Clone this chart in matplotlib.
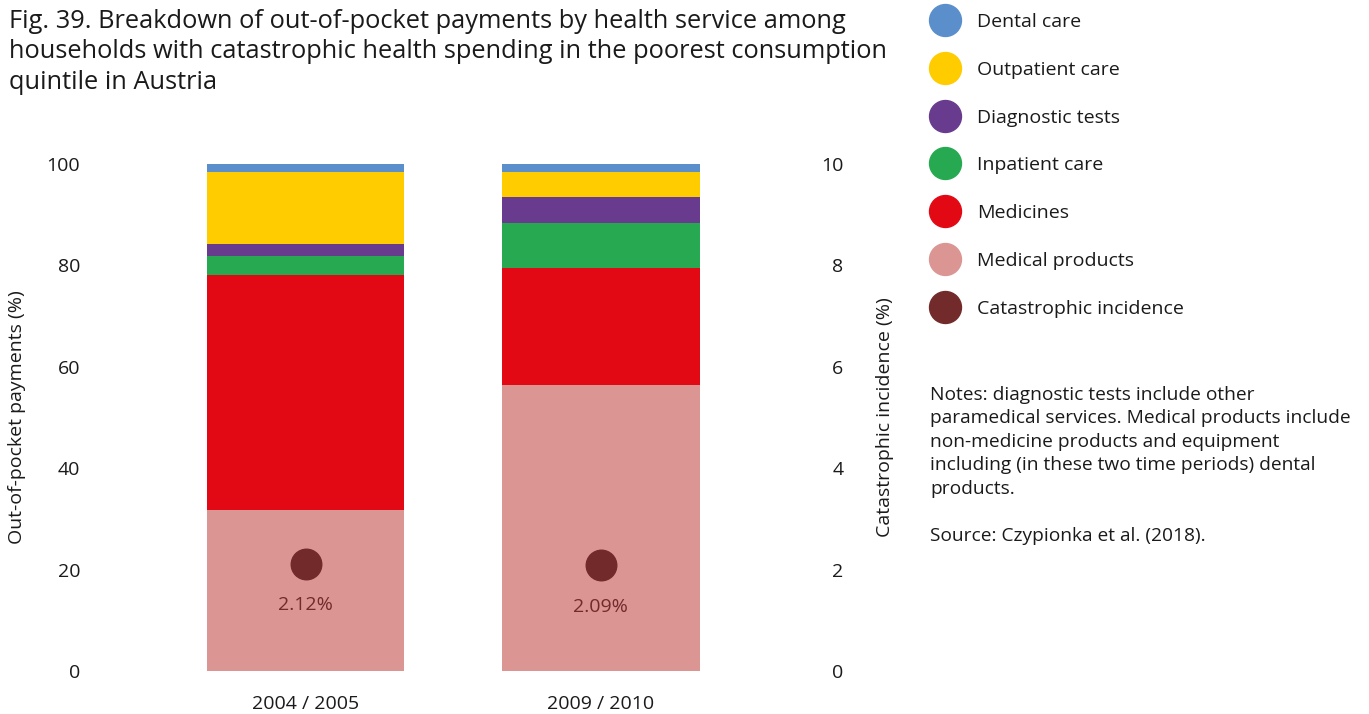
import numpy as np
import matplotlib.pyplot as plt
from matplotlib.lines import Line2D

plt.rcParams['font.family'] = ['Open Sans', 'DejaVu Sans']

# Data
periods = ['2004 / 2005', '2009 / 2010']
services = ['Medical products', 'Medicines', 'Inpatient care',
            'Diagnostic tests', 'Outpatient care', 'Dental care']
shares = {
    'Medical products': [31.8, 56.4],
    'Medicines': [46.3, 23.1],
    'Inpatient care': [3.7, 8.9],
    'Diagnostic tests': [2.4, 5.1],
    'Outpatient care': [14.2, 4.9],
    'Dental care': [1.6, 1.6],
}
incidence = [2.12, 2.09]

colors = {
    'Dental care': '#5B8FCB',
    'Outpatient care': '#FFCC00',
    'Diagnostic tests': '#693B8F',
    'Inpatient care': '#27A952',
    'Medicines': '#E30914',
    'Medical products': '#DB9694',
}
dot_color = '#722A2A'
text_color = '#1a1a1a'
fs = 14

fig = plt.figure(figsize=(13.69, 7.14), dpi=100)
ax = fig.add_axes([0.0672, 0.0602, 0.527, 0.710])
x = np.arange(len(periods))
bottom = np.zeros(len(periods))
for s in services:
    vals = np.array(shares[s])
    ax.bar(x, vals, bottom=bottom, width=0.668, color=colors[s], linewidth=0)
    bottom += vals

ax.set_xlim(-0.724, 1.72)
ax.set_ylim(0, 100)
ax.set_yticks(range(0, 101, 20))
ax.set_xticks(x)
ax.set_xticklabels(periods)
ax.tick_params(axis='both', length=0, labelsize=fs, colors=text_color)
ax.tick_params(axis='x', pad=17.5)
ax.tick_params(axis='y', pad=8.6)
for sp in ax.spines.values():
    sp.set_visible(False)
ax.set_ylabel('Out-of-pocket payments (%)', fontsize=fs, color=text_color)
ax.yaxis.set_label_coords(-0.0915, 0.5)

ax2 = ax.twinx()
ax2.set_ylim(0, 10)
ax2.set_yticks(range(0, 11, 2))
ax2.tick_params(axis='y', length=0, labelsize=fs, colors=text_color, pad=21.6)
for lab in ax2.get_yticklabels():
    lab.set_horizontalalignment('right')
for sp in ax2.spines.values():
    sp.set_visible(False)
ax2.set_ylabel('Catastrophic incidence (%)', fontsize=fs, color=text_color)
ax2.yaxis.set_label_coords(1.086, 0.5)
ax2.plot(x, incidence, 'o', color=dot_color, markersize=22, linestyle='none')
for xi, v in zip(x, incidence):
    ax2.annotate(f'{v:.2f}%', (xi, v), xytext=(0, -30), textcoords='offset points',
                 ha='center', va='center', fontsize=fs, color=dot_color)

fig.text(0.0066, 0.988,
         'Fig. 39. Breakdown of out-of-pocket payments by health service among\n'
         'households with catastrophic health spending in the poorest consumption\n'
         'quintile in Austria',
         ha='left', va='top', fontsize=18.3, color=text_color, linespacing=1.3)

# legend drawn by hand
legend_items = ['Dental care', 'Outpatient care', 'Diagnostic tests', 'Inpatient care',
                'Medicines', 'Medical products', 'Catastrophic incidence']
legend_colors = [colors[k] for k in legend_items[:-1]] + [dot_color]
for i, (lab, c) in enumerate(zip(legend_items, legend_colors)):
    ypx = 20 + i * 47.8
    yf = 1 - ypx / 714
    fig.add_artist(Line2D([945 / 1369], [yf], marker='o', markersize=23, color=c,
                          linestyle='none', transform=fig.transFigure))
    fig.text(977 / 1369, yf - 2 / 714, lab, ha='left', va='center', fontsize=fs,
             color=text_color)

fig.text(930 / 1369, 1 - 386 / 714,
         'Notes: diagnostic tests include other\n'
         'paramedical services. Medical products include\n'
         'non-medicine products and equipment\n'
         'including (in these two time periods) dental\n'
         'products.\n\n'
         'Source: Czypionka et al. (2018).',
         ha='left', va='top', fontsize=13.8, color=text_color, linespacing=1.39)

fig.savefig('out.png', dpi=100)
